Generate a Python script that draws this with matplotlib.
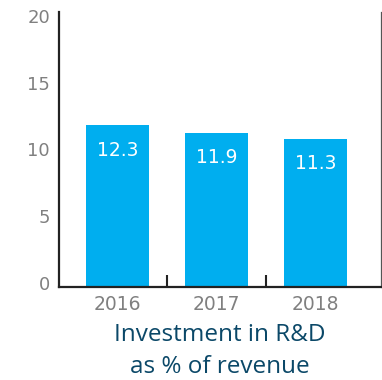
import numpy as np
import matplotlib
matplotlib.use("Agg")
import matplotlib.pyplot as plt

# data
years = ["2016", "2017", "2018"]
bar_tops = [11.83, 11.24, 10.79]       # drawn heights
bar_labels = ["12.3", "11.9", "11.3"]  # printed values
y_ticks = [0, 5, 10, 15, 20]

bar_color = "#00aeef"
grey = "#808080"
title_color = "#0b4868"
y_lo, y_hi = -0.3, 20.3

fig = plt.figure(figsize=(3.82, 3.80), dpi=100)
ax = fig.add_axes([59 / 382, 1 - 287 / 380, 322 / 382, 275 / 380])

x = np.arange(len(years))
heights = [t - y_lo for t in bar_tops]
bars = ax.bar(x, heights, bottom=y_lo, width=0.636, color=bar_color, zorder=2)

for rect, lab in zip(bars, bar_labels):
    ax.annotate(lab, (rect.get_x() + rect.get_width() / 2, rect.get_y() + rect.get_height()),
                xytext=(0, -18), textcoords="offset points",
                ha="center", va="center", color="white", fontsize=13.5)

ax.set_xlim(-0.591, 2.662)
ax.set_ylim(y_lo, y_hi)

ax.set_yticks(y_ticks)
ax.set_yticklabels([str(t) for t in y_ticks])
ax.tick_params(axis="y", length=0, pad=6.5, labelsize=13, labelcolor=grey)

ax.set_xticks(x)
ax.set_xticklabels(years)
ax.tick_params(axis="x", which="major", length=0, pad=6, labelsize=13.5, labelcolor=grey)
ax.set_xticks([0.5, 1.5], minor=True)
ax.tick_params(axis="x", which="minor", direction="in", length=8.6, width=1.5, color="#222222")

ax.spines["top"].set_visible(False)
ax.spines["left"].set_linewidth(1.6)
ax.spines["left"].set_color("#222222")
ax.spines["bottom"].set_linewidth(1.6)
ax.spines["bottom"].set_color("#222222")
ax.spines["right"].set_linewidth(0.9)
ax.spines["right"].set_color("#555555")

fig.text(220 / 382, 1 - 335 / 380, "Investment in R&D", ha="center", va="center",
         color=title_color, fontsize=17.5, family="Open Sans")
fig.text(220 / 382, 1 - 367 / 380, "as % of revenue", ha="center", va="center",
         color=title_color, fontsize=17.5, family="Open Sans")

fig.savefig("out.png", dpi=100)
